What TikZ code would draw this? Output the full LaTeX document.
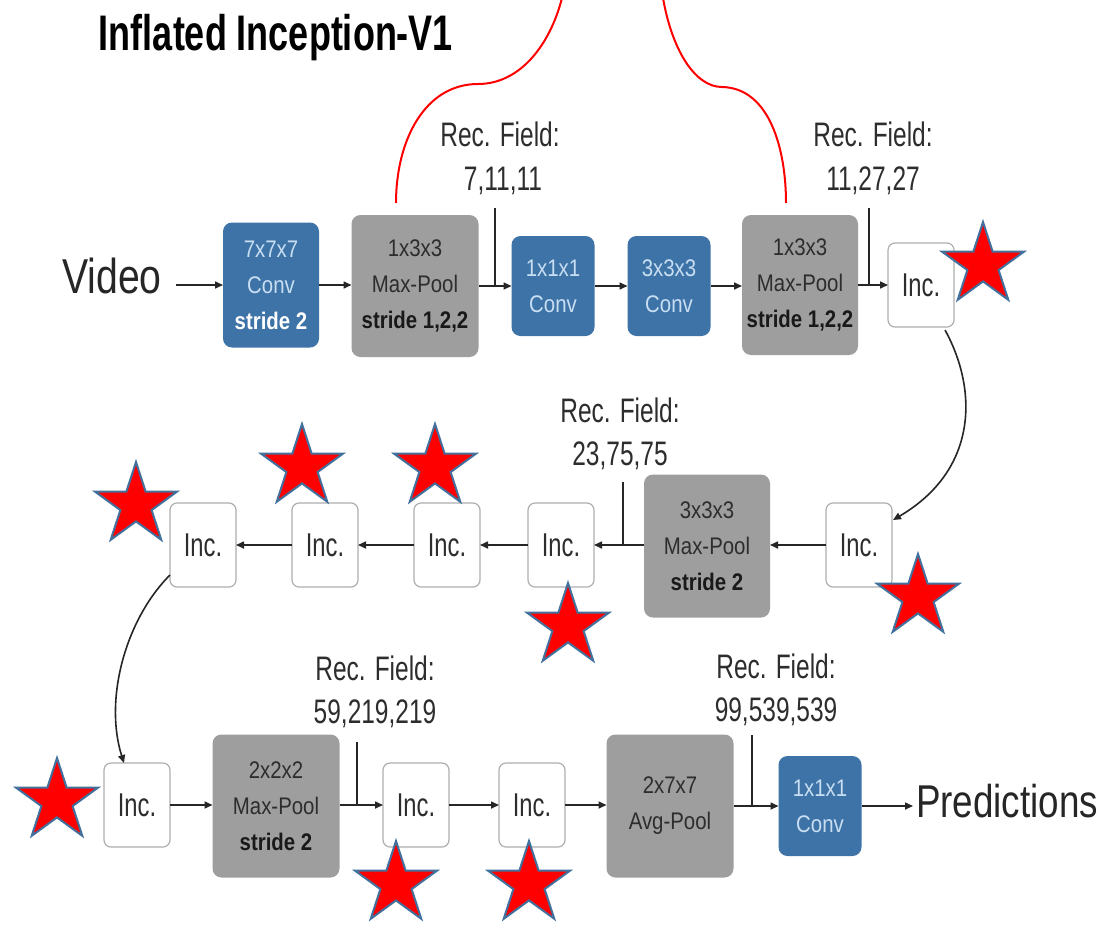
\documentclass[tikz,border=0pt]{standalone}
\usepackage{fontspec}
\setmainfont{Liberation Sans}
\newfontfamily\narrowfont[FakeStretch=0.72]{Liberation Sans}
\newfontfamily\boxfont[FakeStretch=0.85]{Liberation Sans}
\newfontfamily\endfont[FakeStretch=0.8]{Liberation Sans}
\usetikzlibrary{arrows.meta,shapes.geometric,calc}

\definecolor{convblue}{RGB}{62,115,167}
\definecolor{poolgray}{RGB}{158,158,158}
\definecolor{inkgray}{RGB}{45,45,45}
\definecolor{incedge}{RGB}{175,175,175}
\definecolor{convtext}{RGB}{200,222,242}
\definecolor{starred}{RGB}{255,0,0}
\definecolor{staredge}{RGB}{65,113,156}

\begin{document}
\begin{tikzpicture}[x=1pt,y=-1pt,
  every node/.style={inner sep=0pt,outer sep=0pt},
  boxtext/.style={align=center,font=\boxfont\fontsize{24}{36}\selectfont},
  conv/.style={boxtext,fill=convblue,rounded corners=9pt,text=convtext},
  pool/.style={boxtext,fill=poolgray,rounded corners=9pt,text=inkgray},
  inc/.style={draw=incedge,line width=1.2pt,fill=white,rounded corners=7pt,
    minimum width=66pt,minimum height=84pt,text=inkgray,
    font=\narrowfont\fontsize{33}{36}\selectfont},
  rf/.style={anchor=base,text=inkgray,font=\narrowfont\fontsize{34}{43}\selectfont},
  flow/.style={draw=black!85,line width=1.6pt,-{Triangle[length=8pt,width=7pt]}},
  tickline/.style={draw=black!85,line width=1.6pt},
  redstar/.style={star,star points=5,star point ratio=2.618,minimum size=86pt,
    fill=starred,draw=staredge,line width=2pt},
]
\useasboundingbox (0,0) rectangle (1107,926);
\fill[white] (0,0) rectangle (1107,926);

% title
\node[anchor=base,text=black,font=\narrowfont\bfseries\fontsize{50}{60}\selectfont]
  (title) at (276,50) {Inflated Inception-V1};

% ---- first row ----
\node[anchor=base,text=black!85,font=\endfont\fontsize{49}{60}\selectfont]
  (video) at (112,293) {Video};
\node[conv,minimum width=96pt,minimum height=125pt] (b1) at (271,285)
  {7x7x7\\Conv\\\textbf{\color{white}stride 2}};
\node[pool,minimum width=127pt,minimum height=142pt] (b2) at (415,286)
  {1x3x3\\Max-Pool\\\textbf{\color{black!90}stride 1,2,2}};
\node[conv,minimum width=83pt,minimum height=100pt] (b3) at (553,286) {1x1x1\\Conv};
\node[conv,minimum width=83pt,minimum height=100pt] (b4) at (669,286) {3x3x3\\Conv};
\node[pool,minimum width=116pt,minimum height=140pt] (b5) at (800,285)
  {1x3x3\\Max-Pool\\\textbf{\color{black!90}stride 1,2,2}};
\node[inc] (inc1) at (921,285) {Inc.};

\draw[flow] ($(video.east |- b1.west)+(14,0)$) -- (b1.west);
\draw[flow] (b1.east) -- (b2.west |- b1.east);
\draw[flow] (b2.east |- b3.west) -- (b3.west);
\draw[flow] (b3.east) -- (b4.west);
\draw[flow] (b4.east) -- (b5.west |- b4.east);
\draw[flow] (b5.east |- inc1.west) -- (inc1.west);

\coordinate (t1) at (495,208);
\draw[tickline] (t1) -- (t1 |- b3.west);
\node[rf] (rf1a) at (500,146) {Rec. Field:};
\node[rf] (rf1b) at (503,190) {7,11,11};
\coordinate (t2) at (869,208);
\draw[tickline] (t2) -- (t2 |- inc1.west);
\node[rf] (rf2a) at (873,146) {Rec. Field:};
\node[rf] (rf2b) at (873,190) {11,27,27};

% ---- second row ----
\node[inc] (inc2) at (859,545) {Inc.};
\node[pool,minimum width=126pt,minimum height=143pt] (b6) at (707,546)
  {3x3x3\\Max-Pool\\\textbf{\color{black!90}stride 2}};
\node[inc] (inc3) at (561,545) {Inc.};
\node[inc] (inc4) at (447,545) {Inc.};
\node[inc] (inc5) at (325,545) {Inc.};
\node[inc] (inc6) at (203,545) {Inc.};

\draw[flow] ($(inc1.south east)+(-9,3)$) .. controls (978,390) and (978,470) ..
  ($(inc2.north east)+(1,17)$);
\draw[flow] (inc2.west) -- (b6.east |- inc2.west);
\draw[flow] (b6.west |- inc3.east) -- (inc3.east);
\draw[flow] (inc3.west) -- (inc4.east);
\draw[flow] (inc4.west) -- (inc5.east);
\draw[flow] (inc5.west) -- (inc6.east);

\coordinate (t3) at (623,482);
\draw[tickline] (t3) -- (t3 |- inc3.east);
\node[rf] (rf3a) at (620,422) {Rec. Field:};
\node[rf] (rf3b) at (620,465) {23,75,75};

% ---- third row ----
\node[inc] (inc7) at (137,805) {Inc.};
\node[pool,minimum width=127pt,minimum height=143pt] (b7) at (276,806)
  {2x2x2\\Max-Pool\\\textbf{\color{black!90}stride 2}};
\node[inc] (inc8) at (416,805) {Inc.};
\node[inc] (inc9) at (532,805) {Inc.};
\node[pool,minimum width=127pt,minimum height=143pt] (b8) at (670,806)
  {2x7x7\\Avg-Pool};
\node[conv,minimum width=83pt,minimum height=100pt] (b9) at (820,806) {1x1x1\\Conv};
\node[anchor=base west,text=black!85,font=\endfont\fontsize{46}{56}\selectfont]
  (pred) at (916,817) {Predictions};

\draw[flow] ($(inc6.south west)+(0,-12)$) .. controls (125,620) and (104,700) ..
  ($(inc7.north west)+(20,0)$);
\draw[flow] (inc7.east) -- (b7.west |- inc7.east);
\draw[flow] (b7.east |- inc8.west) -- (inc8.west);
\draw[flow] (inc8.east) -- (inc9.west);
\draw[flow] (inc9.east) -- (b8.west |- inc9.east);
\draw[flow] (b8.east |- b9.west) -- (b9.west);
\draw[flow] (b9.east) -- ($(pred.west |- b9.east)+(-3,0)$);

\coordinate (t4) at (357,742);
\draw[tickline] (t4) -- (t4 |- inc8.west);
\node[rf] (rf4a) at (375,680) {Rec. Field:};
\node[rf] (rf4b) at (375,723) {59,219,219};
\coordinate (t5) at (752,735);
\draw[tickline] (t5) -- (t5 |- b9.west);
\node[rf] (rf5a) at (776,678) {Rec. Field:};
\node[rf] (rf5b) at (776,721) {99,539,539};

% red brace over the stem
\draw[red,line width=2pt]
  ($(b2.north)+(-19,-12)$) .. controls (396,140) and (425,84) .. (478,84)
  .. controls (520,84) and (550,45) .. (562,-2);
\draw[red,line width=2pt]
  ($(b5.north)+(-14,-12)$) .. controls (786,150) and (770,88) .. (722,87)
  .. controls (695,87) and (672,50) .. (663,-2);

% stars on the inception blocks
\node[redstar] (s1) at (983,265) {};
\node[redstar] (s2) at (918,597) {};
\node[redstar] (s3) at (568,626) {};
\node[redstar] (s4) at (435,467) {};
\node[redstar] (s5) at (302,467) {};
\node[redstar] (s6) at (136,505) {};
\node[redstar] (s7) at (57,801) {};
\node[redstar] (s8) at (396,884) {};
\node[redstar] (s9) at (529,884) {};
\end{tikzpicture}
\end{document}
